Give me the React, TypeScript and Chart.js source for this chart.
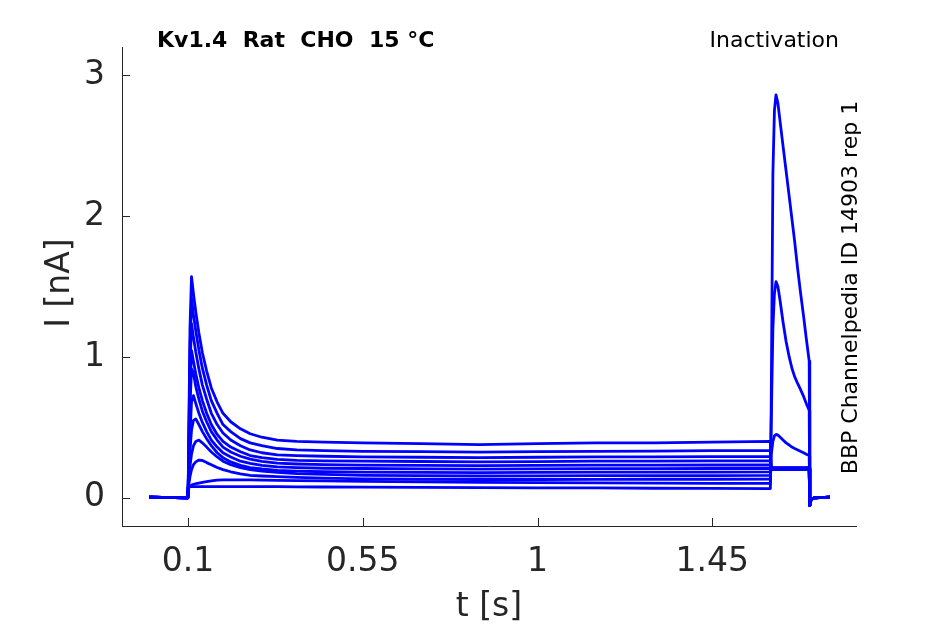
import { useEffect, useRef } from "react"
import { Chart, registerables } from "chart.js"

Chart.register(...registerables)

// sample times [s]: prepulse, test pulse, return to holding
const PRE_TIME = [
  0, 0.0995, 0.1005, 0.105, 0.109, 0.114, 0.12, 0.128, 0.137, 0.148,
  0.16, 0.175, 0.19, 0.21, 0.235, 0.26, 0.29, 0.33, 0.38, 0.45,
  0.55, 0.7, 0.85, 1.0, 1.15, 1.3, 1.45, 1.5995,
]
const TEST_TIME = [
  1.6015, 1.606, 1.61, 1.614, 1.619, 1.625, 1.632, 1.64,
  1.648, 1.655, 1.662, 1.67, 1.677, 1.685, 1.692, 1.6995,
]
const TAIL_TIME = [1.701, 1.704, 1.712, 1.753]

// current [nA]
const PRE_1 = [
  0.005, 0, 0.08, 1.2, 1.57, 1.45, 1.32, 1.17, 1.03, 0.9,
  0.78, 0.68, 0.6, 0.54, 0.49, 0.455, 0.43, 0.41, 0.4, 0.395,
  0.39, 0.385, 0.378, 0.385, 0.39, 0.39, 0.395, 0.4,
]
const PRE_2 = [
  0.005, 0, 0.08, 1.05, 1.415, 1.3, 1.185, 1.05, 0.92, 0.8,
  0.69, 0.6, 0.52, 0.47, 0.42, 0.39, 0.37, 0.35, 0.34, 0.335,
  0.33, 0.328, 0.325, 0.328, 0.33, 0.332, 0.335, 0.335,
]
const PRE_3 = [
  0.005, 0, 0.08, 0.9, 1.236, 1.14, 1.035, 0.915, 0.8, 0.7,
  0.6, 0.52, 0.46, 0.41, 0.37, 0.34, 0.32, 0.305, 0.3, 0.295,
  0.29, 0.288, 0.285, 0.288, 0.29, 0.29, 0.292, 0.293,
]
const PRE_4 = [
  0.005, 0, 0.08, 0.75, 1.045, 0.97, 0.88, 0.78, 0.69, 0.6,
  0.52, 0.45, 0.4, 0.36, 0.327, 0.3, 0.285, 0.273, 0.266, 0.262,
  0.26, 0.258, 0.255, 0.257, 0.26, 0.26, 0.262, 0.262,
]
const PRE_5 = [
  0.005, 0, 0.08, 0.65, 0.915, 0.885, 0.79, 0.7, 0.615, 0.54,
  0.47, 0.41, 0.36, 0.325, 0.295, 0.275, 0.258, 0.246, 0.24, 0.235,
  0.232, 0.23, 0.228, 0.23, 0.232, 0.232, 0.233, 0.234,
]
const PRE_6 = [
  0.005, 0, 0.07, 0.45, 0.68, 0.725, 0.67, 0.6, 0.535, 0.47,
  0.41, 0.36, 0.32, 0.29, 0.26, 0.245, 0.23, 0.22, 0.215, 0.21,
  0.208, 0.206, 0.204, 0.205, 0.207, 0.207, 0.208, 0.208,
]
const PRE_7 = [
  0.005, 0, 0.07, 0.33, 0.48, 0.55, 0.56, 0.52, 0.47, 0.42,
  0.37, 0.32, 0.285, 0.255, 0.23, 0.215, 0.205, 0.195, 0.19, 0.185,
  0.183, 0.181, 0.179, 0.18, 0.182, 0.182, 0.183, 0.184,
]
const PRE_8 = [
  0.005, 0, 0.07, 0.22, 0.31, 0.37, 0.4, 0.41, 0.39, 0.36,
  0.325, 0.29, 0.26, 0.235, 0.215, 0.2, 0.19, 0.18, 0.172, 0.166,
  0.16, 0.157, 0.155, 0.156, 0.157, 0.158, 0.158, 0.159,
]
const PRE_9 = [
  0.005, 0, 0.07, 0.15, 0.2, 0.235, 0.255, 0.268, 0.265, 0.25,
  0.235, 0.215, 0.2, 0.185, 0.17, 0.16, 0.155, 0.15, 0.145, 0.14,
  0.135, 0.132, 0.13, 0.13, 0.131, 0.132, 0.132, 0.133,
]
const PRE_10 = [
  0.005, 0, 0.065, 0.08, 0.09, 0.095, 0.1, 0.105, 0.11, 0.115,
  0.12, 0.125, 0.127, 0.128, 0.128, 0.127, 0.126, 0.124, 0.122, 0.12,
  0.117, 0.113, 0.11, 0.108, 0.106, 0.104, 0.103, 0.102,
]
const PRE_11 = [
  0.005, 0, 0.075, 0.08, 0.08, 0.08, 0.08, 0.08, 0.08, 0.08,
  0.08, 0.08, 0.08, 0.08, 0.08, 0.08, 0.08, 0.08, 0.078, 0.077,
  0.076, 0.074, 0.072, 0.071, 0.07, 0.068, 0.067, 0.066,
]

const TEST_1 = [0.22, 0.21, 0.21, 0.21, 0.21, 0.21, 0.21, 0.21, 0.21, 0.21, 0.21, 0.21, 0.21, 0.21, 0.21, 0.21]
const TEST_2 = [0.215, 0.215, 0.215, 0.215, 0.215, 0.215, 0.215, 0.215, 0.215, 0.215, 0.215, 0.215, 0.215, 0.215, 0.215, 0.215]
const TEST_3 = [0.205, 0.205, 0.205, 0.205, 0.205, 0.205, 0.205, 0.205, 0.205, 0.205, 0.205, 0.205, 0.205, 0.205, 0.205, 0.205]
const TEST_4 = [0.21, 0.21, 0.21, 0.21, 0.21, 0.21, 0.21, 0.21, 0.21, 0.21, 0.21, 0.21, 0.21, 0.21, 0.21, 0.21]
const TEST_5 = [0.2, 0.2, 0.2, 0.2, 0.2, 0.2, 0.2, 0.2, 0.2, 0.2, 0.2, 0.2, 0.2, 0.2, 0.2, 0.2]
const TEST_6 = [0.205, 0.205, 0.205, 0.205, 0.205, 0.205, 0.205, 0.205, 0.205, 0.205, 0.205, 0.205, 0.205, 0.205, 0.205, 0.205]
const TEST_7 = [0.2, 0.2, 0.2, 0.2, 0.2, 0.2, 0.2, 0.2, 0.2, 0.2, 0.2, 0.2, 0.2, 0.2, 0.2, 0.2]
const TEST_8 = [0.21, 0.21, 0.21, 0.21, 0.21, 0.21, 0.21, 0.21, 0.21, 0.21, 0.21, 0.21, 0.21, 0.21, 0.21, 0.21]
const TEST_9 = [0.3, 0.4, 0.44, 0.45, 0.445, 0.43, 0.41, 0.39, 0.375, 0.36, 0.35, 0.34, 0.33, 0.32, 0.31, 0.3]
const TEST_10 = [0.5, 1.2, 1.45, 1.535, 1.5, 1.39, 1.25, 1.11, 1.0, 0.92, 0.86, 0.81, 0.77, 0.72, 0.67, 0.62]
const TEST_11 = [0.6, 2.3, 2.75, 2.86, 2.8, 2.66, 2.5, 2.32, 2.14, 1.98, 1.82, 1.62, 1.46, 1.29, 1.13, 0.97]

const TAIL = [-0.055, -0.015, 0, 0.005]

const PRE = [PRE_1, PRE_2, PRE_3, PRE_4, PRE_5, PRE_6, PRE_7, PRE_8, PRE_9, PRE_10, PRE_11]
const TEST = [TEST_1, TEST_2, TEST_3, TEST_4, TEST_5, TEST_6, TEST_7, TEST_8, TEST_9, TEST_10, TEST_11]

const X_TICKS = [0.1, 0.55, 1, 1.45]
const Y_TICKS = [0, 1, 2, 3]

const TITLE = "Kv1.4  Rat  CHO  15 °C"
const PROTOCOL = "Inactivation"
const SOURCE = "BBP Channelpedia ID 14903 rep 1"
const X_LABEL = "t [s]"
const Y_LABEL = "I [nA]"

const FONT = "'DejaVu Sans', sans-serif"
const AXIS_COLOR = "#262626"
const TRACE_COLOR = "#0000ff"

const TIME = [...PRE_TIME, ...TEST_TIME, ...TAIL_TIME]

// inward tick marks plus the free-floating labels around the axes
const figureText = {
  id: "figureText",
  afterDraw(chart: Chart) {
    const { ctx, chartArea } = chart
    const x = chart.scales.x
    const y = chart.scales.y
    ctx.save()

    ctx.strokeStyle = AXIS_COLOR
    ctx.lineWidth = 1
    ctx.beginPath()
    X_TICKS.forEach((v) => {
      const px = Math.round(x.getPixelForValue(v)) + 0.5
      ctx.moveTo(px, chartArea.bottom)
      ctx.lineTo(px, chartArea.bottom - 8)
    })
    Y_TICKS.forEach((v) => {
      const py = Math.round(y.getPixelForValue(v)) + 0.5
      ctx.moveTo(chartArea.left, py)
      ctx.lineTo(chartArea.left + 8, py)
    })
    ctx.stroke()

    ctx.fillStyle = "#000"
    ctx.textBaseline = "alphabetic"
    ctx.font = `bold 22px ${FONT}`
    ctx.textAlign = "left"
    ctx.fillText(TITLE, 157, 47)

    ctx.font = `22px ${FONT}`
    ctx.textAlign = "right"
    ctx.fillText(PROTOCOL, 839, 47)

    ctx.save()
    ctx.translate(857, 287.5)
    ctx.rotate(-Math.PI / 2)
    ctx.textAlign = "center"
    ctx.fillText(SOURCE, 0, 0)
    ctx.restore()

    ctx.fillStyle = AXIS_COLOR
    ctx.font = `33px ${FONT}`
    ctx.textAlign = "center"
    ctx.fillText(X_LABEL, (chartArea.left + chartArea.right) / 2, 616)

    ctx.save()
    ctx.translate(69, 283)
    ctx.rotate(-Math.PI / 2)
    ctx.textAlign = "center"
    ctx.fillText(Y_LABEL, 0, 0)
    ctx.restore()

    ctx.restore()
  },
}

export default function App() {
  const chartRef = useRef<HTMLCanvasElement>(null)
  const chartInstance = useRef<Chart | null>(null)

  useEffect(() => {
    if (!chartRef.current) return

    if (chartInstance.current) {
      chartInstance.current.destroy()
    }

    const ctx = chartRef.current.getContext("2d")
    if (!ctx) return

    chartInstance.current = new Chart(ctx, {
      type: "line",
      data: {
        datasets: PRE.map((pre, i) => {
          const values = [...pre, ...TEST[i], ...TAIL]
          return {
            label: `sweep ${i + 1}`,
            data: TIME.map((t, j) => ({ x: t, y: values[j] })),
            borderColor: TRACE_COLOR,
            borderWidth: 2.8,
            borderJoinStyle: "round" as const,
            pointRadius: 0,
            tension: 0,
            fill: false,
          }
        }),
      },
      options: {
        responsive: false,
        animation: false,
        devicePixelRatio: 1,
        layout: { padding: { left: 0, top: 47, right: 89, bottom: 0 } },
        plugins: {
          legend: { display: false },
          tooltip: { enabled: false },
        },
        scales: {
          x: {
            type: "linear",
            min: -0.07,
            max: 1.82,
            afterFit: (scale) => {
              scale.height = 98
            },
            afterBuildTicks: (scale) => {
              scale.ticks = X_TICKS.map((v) => ({ value: v }))
            },
            grid: { display: false, drawTicks: false },
            border: { display: true, color: AXIS_COLOR, width: 1 },
            ticks: {
              color: AXIS_COLOR,
              font: { family: FONT, size: 33 },
              padding: 17,
              maxRotation: 0,
              autoSkip: false,
              callback: (v) => String(v),
            },
          },
          y: {
            type: "linear",
            min: -0.2,
            max: 3.2,
            afterFit: (scale) => {
              scale.width = 122
            },
            afterBuildTicks: (scale) => {
              scale.ticks = Y_TICKS.map((v) => ({ value: v }))
            },
            grid: { display: false, drawTicks: false },
            border: { display: true, color: AXIS_COLOR, width: 1 },
            ticks: {
              color: AXIS_COLOR,
              font: { family: FONT, size: 33 },
              padding: 17,
              callback: (v) => String(v),
            },
          },
        },
      },
      plugins: [figureText],
    })

    return () => {
      if (chartInstance.current) {
        chartInstance.current.destroy()
        chartInstance.current = null
      }
    }
  }, [])

  return (
    <div
      style={{
        position: "fixed",
        left: 0,
        top: 0,
        width: 945,
        height: 624,
        background: "#fff",
      }}
    >
      <canvas ref={chartRef} width={945} height={624} />
    </div>
  )
}
